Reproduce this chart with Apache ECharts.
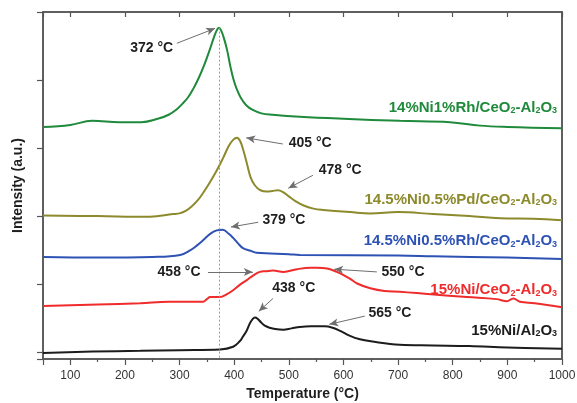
<!DOCTYPE html>
<html>
<head>
<meta charset="utf-8">
<script src="https://cdn.jsdelivr.net/npm/echarts@6/dist/echarts.min.js"></script>
<style>
  html, body { margin: 0; padding: 0; background: #fff; }
  #chart { width: 577px; height: 403px; }
</style>
</head>
<body>
<div id="chart"></div>
<script>
// H2-TPR profiles, each point is [temperature (°C), intensity (a.u., stacked offsets)]
const ni1Rh = [[50,33.1],[100,33.4],[140,34.0],[190,33.8],[230,33.8],[260,34.3],[280,34.9],[295,35.7],[305,36.5],[315,37.4],[325,38.7],[335,40.3],[345,42.2],[355,44.4],[363,46.3],[368,47.3],[372,47.7],[376,47.3],[381,46.2],[387,44.4],[393,42.0],[399,40.0],[405,38.6],[412,37.4],[422,36.3],[434,35.6],[450,35.1],[470,34.9],[520,34.6],[600,34.3],[703,34.0],[795,33.8],[850,33.3],[900,33.1],[1000,32.9]];
const ni05Pd = [[50,20.1],[150,20.0],[246,19.9],[288,20.3],[300,20.4],[312,20.8],[322,21.4],[333,22.3],[343,23.4],[355,24.9],[368,26.7],[380,28.6],[390,30.3],[398,31.2],[405,31.5],[411,31.0],[417,29.6],[423,27.8],[430,25.7],[438,24.5],[448,23.8],[460,23.6],[470,23.7],[480,23.8],[490,23.5],[500,22.9],[512,22.2],[526,21.6],[545,21.1],[563,20.9],[612,20.6],[649,20.4],[700,20.6],[764,20.3],[830,20.0],[887,19.7],[947,19.6],[1000,19.4]];
const ni05Rh = [[50,14.0],[150,13.9],[250,14.0],[301,14.3],[320,15.0],[332,15.7],[345,16.6],[356,17.4],[368,17.9],[379,18.0],[390,17.4],[398,16.8],[407,16.0],[416,15.3],[430,14.9],[441,14.6],[500,14.4],[520,14.3],[700,14.2],[764,14.1],[900,13.9],[1000,13.7]];
const niCe = [[50,6.8],[150,7.0],[228,7.2],[280,7.4],[343,7.4],[350,7.8],[356,8.1],[362,8.1],[374,8.1],[386,8.5],[398,9.1],[410,9.9],[423,10.6],[435,11.3],[447,11.8],[458,11.9],[471,12.0],[490,11.8],[515,12.2],[540,12.4],[551,12.4],[570,12.3],[588,11.8],[610,10.9],[625,10.1],[649,9.4],[675,9.0],[703,8.9],[760,8.5],[826,8.1],[880,7.8],[899,7.5],[911,7.9],[923,7.4],[950,7.2],[1000,6.6]];
const niAl = [[50,-0.1],[140,0.1],[228,0.2],[300,0.3],[374,0.4],[398,0.8],[410,1.6],[416,2.3],[423,3.2],[429,4.3],[434,4.9],[438,5.1],[443,4.9],[449,4.4],[456,3.9],[465,3.6],[475,3.4],[490,3.3],[505,3.5],[520,3.7],[540,3.8],[565,3.8],[580,3.6],[595,3.1],[612,2.4],[630,1.9],[650,1.6],[703,1.1],[764,1.0],[830,0.9],[900,0.7],[1000,0.5]];

const sampleNames = ['14%Ni1%Rh/CeO2-Al2O3', '14.5%Ni0.5%Pd/CeO2-Al2O3', '14.5%Ni0.5%Rh/CeO2-Al2O3', '15%Ni/CeO2-Al2O3', '15%Ni/Al2O3'];
const sampleColors = ['#1f8a3b', '#8c8a2c', '#2d52b4', '#ef2b2b', '#1c1c1c'];
// reduction peak maxima (°C) per profile
const peakTemps = [[372], [405, 478], [379], [458, 550], [438, 565]];
const xTickLabels = ['100','200','300','400','500','600','700','800','900','1000'];

// annotation layout: label centre and arrow tail/tip, in axis coordinates (T, intensity)
const annotLayout = [
  [{ label: [249, 44.7], tail: [295, 45.4], tip: [365, 47.6] }],
  [{ label: [539, 30.7], tail: [489, 30.6], tip: [422, 31.5] },
   { label: [594, 26.8], tail: [544, 26.0], tip: [499, 24.1] }],
  [{ label: [491, 19.4], tail: [444, 19.1], tip: [394, 18.4] }],
  [{ label: [299, 11.8], tail: [352, 11.8], tip: [434, 11.8] },
   { label: [709, 11.8], tail: [661, 11.8], tip: [583, 12.2] }],
  [{ label: [509, 9.4], tail: [471, 7.9], tip: [445, 6.0] },
   { label: [685, 5.7], tail: [639, 5.3], tip: [574, 4.1] }]
];
// sample name placement (right-aligned), intensity level
const nameLevels = [35.9, 22.4, 16.3, 9.1, 3.2];
const nameRight = 991;

const FONT = "'Liberation Sans', Arial, sans-serif";
const AXIS_COLOR = '#555';
const profiles = [ni1Rh, ni05Pd, ni05Rh, niCe, niAl];

// turn chemical-formula digits into subscripts for rich text
function richName(name) {
  const out = [];
  const re = /([A-Za-z])(\d)(?=-|[A-Z]|$)/g;
  let last = 0, m;
  while ((m = re.exec(name))) {
    const cut = m.index + 1;
    out.push('{m|' + name.slice(last, cut) + '}', '{s|' + m[2] + '}');
    last = cut + 1;
  }
  if (last < name.length) out.push('{m|' + name.slice(last) + '}');
  return out.join('');
}

const series = profiles.map((data, i) => {
  const color = sampleColors[i];
  const annots = annotLayout[i];
  const markLineData = annots.map(a => [
    { coord: a.tail, symbol: 'none' },
    { coord: a.tip, symbol: 'arrow' }
  ]);
  const markPointData = annots.map((a, k) => ({
    coord: a.label,
    value: peakTemps[i][k],
    label: { formatter: peakTemps[i][k] + ' °C', color: '#1e1e1e', fontSize: 14, fontWeight: 'bold', fontFamily: FONT }
  }));
  markPointData.push({
    coord: [nameRight, nameLevels[i]],
    label: {
      formatter: richName(sampleNames[i]),
      align: 'right',
      lineHeight: 18,
      rich: {
        m: { fontSize: 15, fontWeight: 'bold', color: color, fontFamily: FONT, verticalAlign: 'top', lineHeight: 15 },
        s: { fontSize: 9, fontWeight: 'bold', color: color, fontFamily: FONT, verticalAlign: 'bottom', lineHeight: 10 }
      }
    }
  });
  if (i === 0) {
    // dotted guide through the 372 °C maximum
    const top = data.find(p => p[0] === peakTemps[0][0]);
    markLineData.push([
      { coord: [top[0], top[1]], symbol: 'none', lineStyle: { color: '#9a9a9a', type: [2, 2], width: 1 } },
      { coord: [top[0], -1], symbol: 'none' }
    ]);
  }
  return {
    type: 'line',
    name: sampleNames[i],
    data: data,
    smooth: 0.4,
    showSymbol: false,
    lineStyle: { color: color, width: 2 },
    itemStyle: { color: color },
    z: 3,
    markLine: {
      silent: true,
      symbolSize: [6, 9],
      label: { show: false },
      lineStyle: { color: '#6e6e6e', width: 1, type: 'solid' },
      emphasis: { disabled: true },
      data: markLineData
    },
    markPoint: {
      silent: true,
      symbol: 'circle',
      symbolSize: 0,
      label: { show: true, position: 'inside' },
      data: markPointData
    }
  };
});

const axisLine = () => ({ show: true, onZero: false, lineStyle: { color: AXIS_COLOR, width: 1.5 } });

const option = {
  animation: false,
  backgroundColor: '#fff',
  grid: {
    left: 43, right: 15, top: 12, bottom: 44, containLabel: false, outerBoundsMode: 'none',
    show: true, borderColor: AXIS_COLOR, borderWidth: 1.5, backgroundColor: 'transparent'
  },
  xAxis: [
    {
      type: 'value', min: 50, max: 1000, splitNumber: 10, position: 'bottom',
      name: 'Temperature (°C)', nameLocation: 'middle', nameGap: 24,
      nameTextStyle: { fontFamily: FONT, fontSize: 14, fontWeight: 'bold', color: '#1e1e1e' },
      axisLine: axisLine(),
      axisTick: { show: true, length: 6, lineStyle: { color: AXIS_COLOR, width: 1.2 } },
      minorTick: { show: true, splitNumber: 2, length: 3, lineStyle: { color: AXIS_COLOR, width: 1.2 } },
      axisLabel: {
        margin: 11, fontFamily: FONT, fontSize: 12, color: '#333', showMinLabel: false,
        formatter: v => xTickLabels.includes(String(v)) ? String(v) : ''
      },
      splitLine: { show: false }
    },
    {
      type: 'value', min: 50, max: 1000, splitNumber: 10, position: 'top',
      axisLine: axisLine(),
      axisTick: { show: true, inside: true, length: 5, lineStyle: { color: AXIS_COLOR, width: 1.2 } },
      axisLabel: { show: false },
      splitLine: { show: false }
    }
  ],
  yAxis: [
    {
      type: 'value', min: -1, max: 50, splitNumber: 5, position: 'left',
      name: 'Intensity (a.u.)', nameLocation: 'middle', nameGap: 18,
      nameTextStyle: { fontFamily: FONT, fontSize: 14, fontWeight: 'bold', color: '#1e1e1e' },
      axisLine: axisLine(),
      axisTick: { show: true, length: 6, lineStyle: { color: AXIS_COLOR, width: 1.2 } },
      axisLabel: { show: false },
      splitLine: { show: false }
    },
    {
      type: 'value', min: -1, max: 50, position: 'right',
      axisLine: axisLine(),
      axisTick: { show: false },
      axisLabel: { show: false },
      splitLine: { show: false }
    }
  ],
  series: series
};

const chart = echarts.init(document.getElementById('chart'), null, { renderer: 'canvas' });
chart.setOption(option);
</script>
</body>
</html>
